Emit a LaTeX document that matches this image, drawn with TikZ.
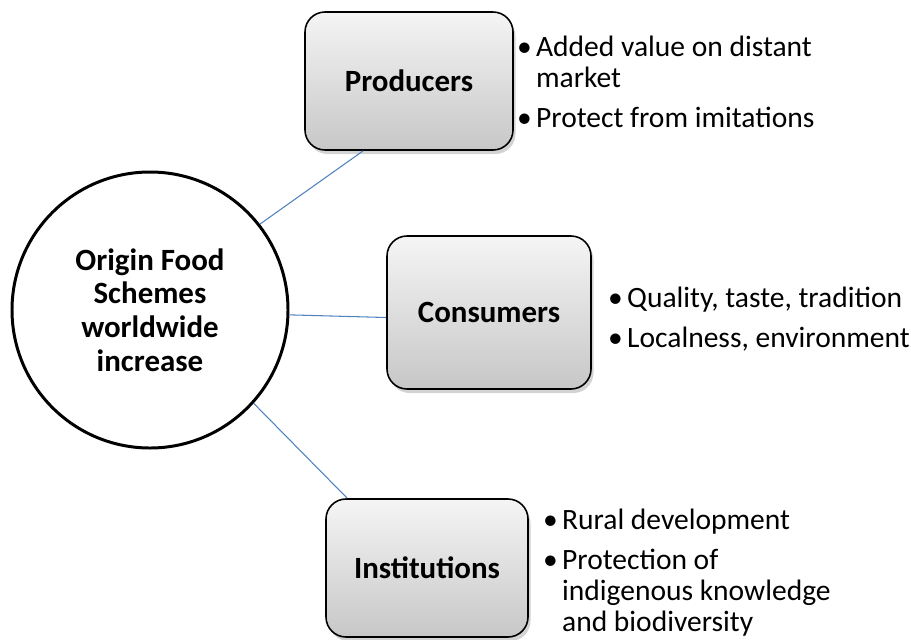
\documentclass[tikz,border=0pt]{standalone}
\usepackage{fontspec}
\setmainfont{Carlito}
\usetikzlibrary{positioning,shadows}
\definecolor{linkblue}{HTML}{4F81BD}
\newcommand{\lpoint}[1]{\par\noindent\makebox[3.8mm][l]{\textbullet}\parbox[t]{60mm}{\raggedright\spaceskip=0pt\xspaceskip=0pt #1\strut}\par\prevdepth=\dp\strutbox}

\begin{document}
\begin{tikzpicture}[
  hub/.style={circle, draw, line width=1.7pt, minimum size=55.2mm, align=center, font=\fontsize{17.6}{19.2}\selectfont\bfseries},
  actor/.style={draw, line width=0.9pt, rounded corners=4mm, top color=black!4, bottom color=black!22, minimum width=41mm, minimum height=27.6mm, font=\fontsize{17.6}{20}\selectfont\bfseries, drop shadow={shadow xshift=0.5mm, shadow yshift=-0.8mm, opacity=0.35}},
  points/.style={anchor=west, inner sep=0pt, text width=64mm, align=left, font=\fontsize{16.8}{17.6}\selectfont, execute at begin node={\setlength{\parskip}{1.8mm}}},
  link/.style={draw=linkblue, line width=0.6pt}]
  \useasboundingbox (0,0) rectangle (182.2mm,-127.8mm);
  % hub and the three actors
  \node[hub] (ofs) at (30mm,-62mm) {Origin Food\\Schemes\\worldwide\\increase};
  \node[actor, minimum width=41.6mm] (prod) at (81.8mm,-16.2mm) {Producers};
  \node[actor, minimum width=40.8mm, minimum height=30.6mm] (cons) at (97.8mm,-62.5mm) {Consumers};
  \node[actor, minimum width=40.4mm] (inst) at (85.4mm,-113.6mm) {Institutions};
  \draw[link] (ofs.38) -- ([xshift=11.8mm]prod.south west);
  \draw[link] (ofs.-2) -- ([yshift=-1mm]cons.west);
  \draw[link] (ofs.-42) -- ([xshift=4.4mm]inst.north west);
  % what each actor gets
  \node[points, right=0.6mm of prod, yshift=0.8mm] (prodpts) {\lpoint{Added value on distant\\market}\lpoint{Protect from imitations}};
  \node[points, right=3.2mm of cons] (conspts) {\lpoint{Quality, taste, tradition}\lpoint{Localness, environment}};
  \node[points, right=2.8mm of inst, yshift=0.6mm] (instpts) {\lpoint{Rural development}\lpoint{Protection of\\indigenous knowledge\\and biodiversity}};
\end{tikzpicture}
\end{document}
